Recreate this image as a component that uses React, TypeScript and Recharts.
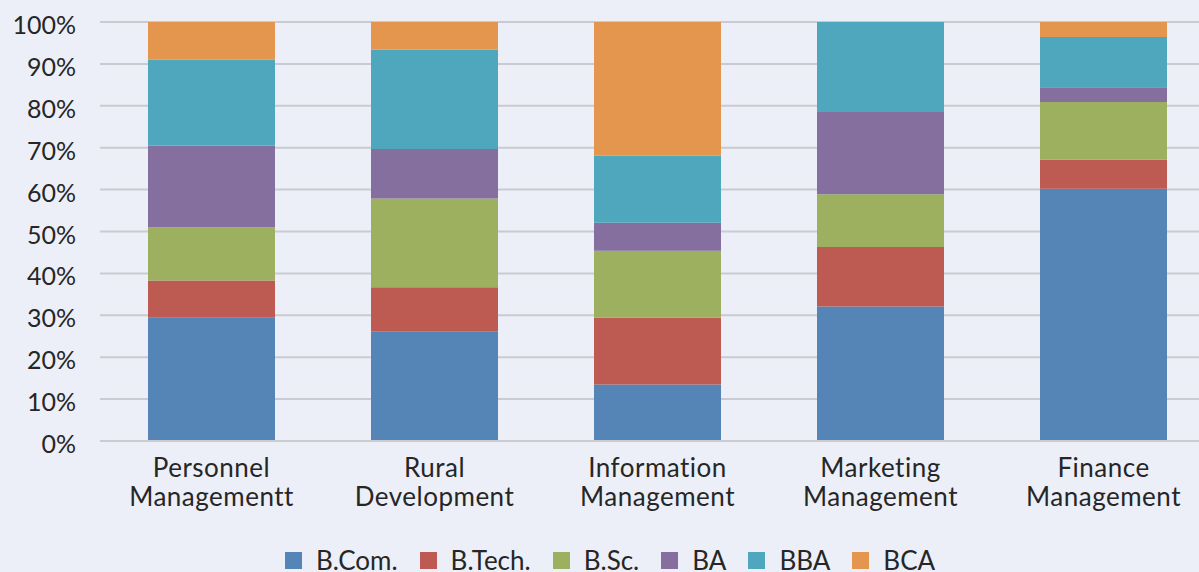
import { Bar, BarChart, CartesianGrid, Legend, XAxis, YAxis } from "recharts";

const categories = [
  "Personnel\nManagementt",
  "Rural\nDevelopment",
  "Information\nManagement",
  "Marketing\nManagement",
  "Finance\nManagement",
];

// share of each degree within a specialisation, in percent
const bcom = [29.4, 26.2, 13.5, 32.1, 60.2];
const btech = [8.9, 10.5, 15.9, 14.2, 6.9];
const bsc = [12.7, 21.2, 16.0, 12.6, 13.8];
const ba = [19.5, 11.8, 6.7, 19.6, 3.5];
const bba = [20.5, 23.7, 16.0, 21.5, 12.0];
const bca = [9.0, 6.6, 31.9, 0, 3.6];

const yTicks = [0, 10, 20, 30, 40, 50, 60, 70, 80, 90, 100];

const series = [
  { key: "bcom", label: "B.Com.", color: "#5585b6", values: bcom },
  { key: "btech", label: "B.Tech.", color: "#bd5b53", values: btech },
  { key: "bsc", label: "B.Sc.", color: "#9db05f", values: bsc },
  { key: "ba", label: "BA", color: "#856f9e", values: ba },
  { key: "bba", label: "BBA", color: "#4fa7be", values: bba },
  { key: "bca", label: "BCA", color: "#e4964e", values: bca },
];

const data = categories.map((name, i) => {
  const row: Record<string, number | string> = { name };
  series.forEach((s) => (row[s.key] = s.values[i]));
  return row;
});

const FONT = "Lato, 'Open Sans', sans-serif";
const TEXT = "#262626";
const BG = "#eceff8";

function CategoryTick({ x, y, payload }: any) {
  const lines = String(payload.value).split("\n");
  return (
    <text
      x={x}
      y={y}
      textAnchor="middle"
      fill={TEXT}
      fontSize={26}
      letterSpacing={0.5}
      fontFamily={FONT}
    >
      {lines.map((l, i) => (
        <tspan key={i} x={x} dy={i === 0 ? 28 : 29}>
          {l}
        </tspan>
      ))}
    </text>
  );
}

function PercentTick({ x, y, payload }: any) {
  return (
    <text x={x} y={y} dy={12} textAnchor="end" fill={TEXT} fontSize={25} fontFamily={FONT}>
      {payload.value}%
    </text>
  );
}

function LegendRow() {
  return (
    <div
      style={{
        display: "flex",
        justifyContent: "center",
        fontFamily: FONT,
        fontSize: 26,
        color: TEXT,
      }}
    >
      {series.map((s, i) => (
        <div
          key={s.key}
          style={{ display: "flex", alignItems: "center", marginRight: i < series.length - 1 ? 22 : 0 }}
        >
          <span style={{ width: 17, height: 17, background: s.color, marginRight: 14 }} />
          <span>{s.label}</span>
        </div>
      ))}
    </div>
  );
}

export default function App() {
  return (
    <div
      style={{
        position: "fixed",
        left: 0,
        top: 0,
        width: 1199,
        height: 572,
        overflow: "hidden",
        background: BG,
      }}
    >
      <BarChart
        width={1220}
        height={572}
        data={data}
        margin={{ top: 22, right: 5, bottom: 0, left: 0 }}
        barSize={127}
      >
        <CartesianGrid vertical={false} stroke="#cacbd0" strokeWidth={2} />
        <XAxis
          dataKey="name"
          height={131}
          axisLine={{ stroke: "#cacbd0", strokeWidth: 2 }}
          tickLine={false}
          interval={0}
          tick={<CategoryTick />}
        />
        <YAxis
          width={100}
          domain={[0, 100]}
          ticks={yTicks}
          axisLine={false}
          tickLine={false}
          tickMargin={18}
          tick={<PercentTick />}
        />
        <Legend
          verticalAlign="middle"
          align="center"
          wrapperStyle={{ top: 544, left: 0, width: 1220 }}
          content={() => <LegendRow />}
        />
        {series.map((s) => (
          <Bar
            key={s.key}
            dataKey={s.key}
            name={s.label}
            stackId="a"
            fill={s.color}
            isAnimationActive={false}
          />
        ))}
      </BarChart>
    </div>
  );
}
